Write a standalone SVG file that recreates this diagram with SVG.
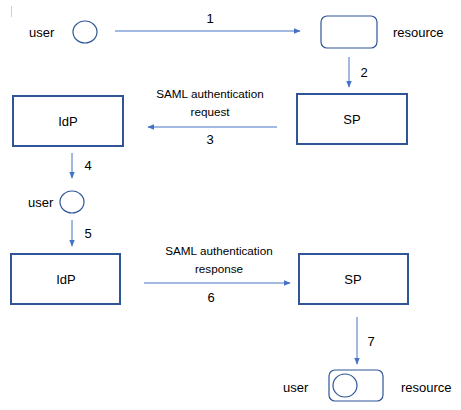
<svg xmlns="http://www.w3.org/2000/svg" width="461" height="410" viewBox="0 0 461 410">
<defs>
<style>
text{font-family:"Liberation Sans",Arial,sans-serif;fill:#000;}
.lbl{font-size:13px;}
.sm{font-size:11.7px;text-anchor:middle;}
.num{font-size:13px;}
.box{fill:#fff;stroke:#2F5597;stroke-width:2;}
.rr{fill:#fff;stroke:#2F5597;stroke-width:1.2;}
.circ{fill:#fff;stroke:#2F5597;stroke-width:1.2;}
.ctr{text-anchor:middle;font-size:13px;}
.conn{stroke:#4472C4;stroke-width:1;fill:none;marker-end:url(#ah);}
</style>
<marker id="ah" viewBox="0 0 10 10" refX="9" refY="5" markerWidth="7" markerHeight="7" markerUnits="userSpaceOnUse" orient="auto">
<path d="M0,1 L10,5 L0,9 z" fill="#4472C4"/>
</marker>
</defs>
<rect width="461" height="410" fill="#fff"/>
<line x1="11.5" y1="6" x2="11.5" y2="17" stroke="#d0d0d0" stroke-width="1"/>

<g id="connectors">
<line class="conn" x1="115" y1="31" x2="300" y2="31"/>
<line class="conn" x1="349" y1="57" x2="349" y2="87"/>
<line class="conn" x1="277" y1="127" x2="148" y2="127"/>
<line class="conn" x1="72" y1="153" x2="72" y2="178"/>
<line class="conn" x1="72" y1="220" x2="72" y2="246"/>
<line class="conn" x1="144" y1="283" x2="290" y2="283"/>
<line class="conn" x1="357" y1="317" x2="357" y2="364"/>
<text class="num" x="210" y="23" text-anchor="middle">1</text>
<text class="num" x="364" y="77" text-anchor="middle">2</text>
<text class="sm" x="210" y="98">SAML authentication</text>
<text class="sm" x="210" y="116">request</text>
<text class="num" x="210" y="144" text-anchor="middle">3</text>
<text class="num" x="88" y="170" text-anchor="middle">4</text>
<text class="num" x="88" y="238" text-anchor="middle">5</text>
<text class="sm" x="219" y="255">SAML authentication</text>
<text class="sm" x="219" y="273">response</text>
<text class="num" x="211" y="302" text-anchor="middle">6</text>
<text class="num" x="371" y="346" text-anchor="middle">7</text>
</g>

<g id="user1">
<ellipse class="circ" cx="85" cy="32" rx="12" ry="11"/>
<text class="lbl" x="29" y="37">user</text>
</g>
<g id="resource1">
<rect class="rr" x="321" y="16" width="56" height="32" rx="6"/>
<text class="lbl" x="393" y="37">resource</text>
</g>
<g id="idp1">
<rect class="box" x="13" y="96" width="110" height="50"/>
<text class="ctr" x="68" y="126">IdP</text>
</g>
<g id="sp1">
<rect class="box" x="297" y="94" width="110" height="50"/>
<text class="ctr" x="352" y="124">SP</text>
</g>
<g id="user2">
<ellipse class="circ" cx="72" cy="202" rx="12" ry="11"/>
<text class="lbl" x="28" y="207">user</text>
</g>
<g id="idp2">
<rect class="box" x="11" y="254" width="109" height="50"/>
<text class="ctr" x="66" y="284">IdP</text>
</g>
<g id="sp2">
<rect class="box" x="299" y="254" width="109" height="50"/>
<text class="ctr" x="353" y="284">SP</text>
</g>
<g id="user-resource">
<rect class="rr" x="329" y="370" width="54" height="31" rx="6"/>
<ellipse class="circ" cx="345" cy="385.5" rx="12" ry="11.5"/>
<text class="lbl" x="283" y="392">user</text>
<text class="lbl" x="401" y="392">resource</text>
</g>
</svg>
